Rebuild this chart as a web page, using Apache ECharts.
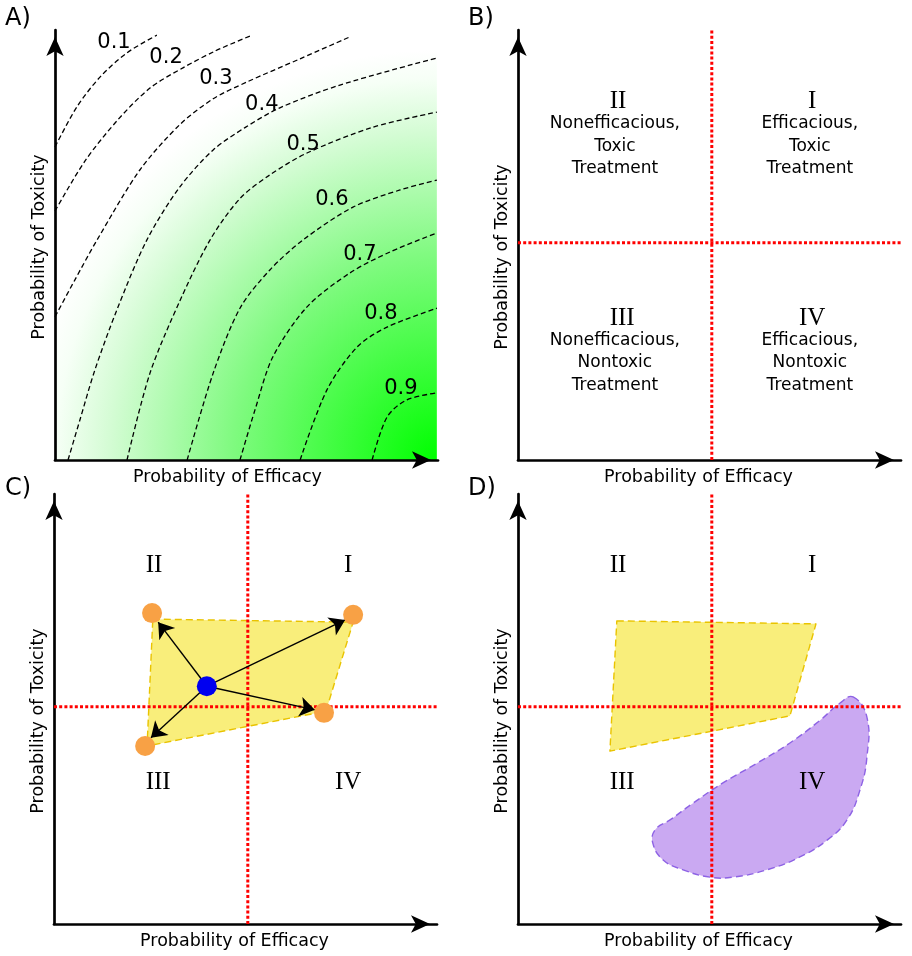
<!DOCTYPE html>
<html><head><meta charset="utf-8">
<script src="https://cdn.jsdelivr.net/npm/echarts/dist/echarts.min.js"></script>
<style>html,body{margin:0;padding:0;background:#fff}#c{width:912px;height:956px}</style>
</head><body><div id="c"></div><script>
// ---------- Panel A: utility contours ----------
const contourLabels = ['0.1','0.2','0.3','0.4','0.5','0.6','0.7','0.8','0.9'];
const contour1 = [[0,72.8],[5.7,82.1],[11.8,89.1],[18.8,94.7],[26.6,98.8]];
const contour2 = [[0,57.9],[7.8,69.5],[16.4,79.1],[24.8,86.5],[33.4,91.2],[41.8,95.1],[50.9,98.6]];
const contour3 = [[0,33.3],[5.2,41.9],[11.0,51.2],[22.2,67.5],[32.6,78.0],[41.3,84.0],[50.1,87.9],[64.0,93.3],[77.0,98.4]];
const contour4 = [[3.4,0],[6.5,9.3],[10.4,20.9],[16.2,35.0],[24.0,51.2],[32.6,63.5],[41.3,72.1],[49.6,77.3],[58.7,81.9],[74.4,87.2],[99.7,93.5]];
const contour5 = [[18.8,0],[24.8,20.2],[32.6,37.0],[40.5,51.2],[48.3,60.8],[56.1,66.3],[65.8,71.4],[83.0,77.4],[99.7,80.9]];
const contour6 = [[34.5,0],[41.3,20.2],[48.3,35.3],[56.1,44.2],[64.8,51.2],[77.8,58.8],[90.1,62.8],[99.7,65.1]];
const contour7 = [[48.3,0],[52.2,11.6],[56.9,24.0],[65.8,35.6],[77.0,43.5],[87.5,48.4],[99.7,52.8]];
const contour8 = [[64.0,0],[71.0,16.3],[78.9,26.3],[86.7,30.9],[99.7,35.3]];
const contour9 = [[82.8,0],[86.7,10.0],[91.9,14.0],[99.7,15.6]];
const contourLabelPos = [[15.4,97.0],[29.0,93.7],[42.0,88.8],[54.0,82.6],[64.8,73.3],[72.3,60.5],[79.6,47.7],[85.1,34.0],[90.3,16.7]];
const utilityField = [[0,0],[99.7,98.4]]; // extent of shaded field

// ---------- Quadrants ----------
const quadrantSplit = [50.6, 50.5];
const numerals = ['II','I','III','IV'];
const numeralPos = [[26.1,83.3],[76.8,83.3],[27.2,33.0],[76.8,33.0]];
const descriptions = ['Nonefficacious,\nToxic\nTreatment','Efficacious,\nToxic\nTreatment','Nonefficacious,\nNontoxic\nTreatment','Efficacious,\nNontoxic\nTreatment'];
const descriptionPos = [[25.3,73.0],[76.2,73.0],[25.3,22.6],[76.2,22.6]];

// ---------- Panel C / D ----------
const doseRegion = [[25.8,70.9],[78.1,70.2],[71.0,49.5],[24.3,41.4]];
const doseRegionD = [[25.8,70.5],[77.8,69.8],[71.0,48.4],[24.0,40.2]];
const cornerPoints = [[25.6,72.3],[78.1,71.9],[70.5,49.1],[23.8,41.4]];
const centerPoint = [[39.9,55.3]];
const arrowEnds = [[27.2,70.2],[76.0,70.7],[68.1,49.8],[25.3,43.3]];
const targetRegion = [[87.5,52.8],[91.1,48.1],[91.1,38.8],[89.3,31.2],[85.9,24.2],[80.7,19.5],[73.6,15.6],[65.0,12.6],[56.1,10.9],[50.1,10.9],[43.1,12.6],[37.9,14.9],[35.2,18.8],[35.8,21.9],[39.7,24.2],[45.7,28.1],[53.5,32.8],[62.4,37.4],[71.0,42.1],[78.9,47.4],[84.1,51.4]];

const panelLetters = ['A)','B)','C)','D)'];

const FONT = 'DejaVu Sans';
const grids = [
  {left:55, top:30, width:383, height:430},
  {left:518, top:30, width:383, height:430},
  {left:54, top:494, width:383, height:430},
  {left:518, top:494, width:383, height:430}
].map(g => Object.assign({outerBoundsMode:'none', containLabel:false}, g));

const axisLineCfg = {onZero:false, symbol:['none','arrow'], symbolSize:[13,19], symbolOffset:[0,-7], lineStyle:{color:'#000', width:2.7}};
const xShift = [19, 11, 11, 11];
const yShift = [2, 12, 12, 12];
const xAxes = grids.map((g,i)=>({gridIndex:i, type:'value', min:0, max:100,
  name:'Probability of Efficacy', nameLocation:'middle', nameGap:8,
  nameTextStyle:{fontFamily:FONT, fontSize:17.5, color:'#000', padding:[0,2*xShift[i],0,0]},
  axisLine:axisLineCfg, axisTick:{show:false}, axisLabel:{show:false}, splitLine:{show:false}}));
const yAxes = grids.map((g,i)=>({gridIndex:i, type:'value', min:0, max:100,
  name:'Probability of Toxicity', nameLocation:'middle', nameGap:7,
  nameTextStyle:{fontFamily:FONT, fontSize:17.5, color:'#000', padding:[0,2*yShift[i],0,0]},
  axisLine:axisLineCfg, axisTick:{show:false}, axisLabel:{show:false}, splitLine:{show:false}}));

const series = [];
// gradient field
series.push({type:'custom', xAxisIndex:0, yAxisIndex:0, z:-1, silent:true, data:[[0,0]],
  renderItem:(params, api)=>{
    const p0 = api.coord([utilityField[0][0], utilityField[1][1]]);
    const p1 = api.coord([utilityField[1][0], utilityField[0][1]]);
    return {type:'rect', shape:{x:p0[0], y:p0[1], width:p1[0]-p0[0], height:p1[1]-p0[1]},
      style:{fill:new echarts.graphic.RadialGradient(p1[0], p1[1], 410, [
        {offset:0, color:'#00ff00'}, {offset:0.5, color:'#80fa80'}, {offset:0.8, color:'#d4fcd4'},
        {offset:0.93, color:'#f6fff6'}, {offset:1, color:'#ffffff'}], true)}};
  }});
[contour1,contour2,contour3,contour4,contour5,contour6,contour7,contour8,contour9].forEach(c=>{
  series.push({type:'line', xAxisIndex:0, yAxisIndex:0, data:c, smooth:0.3, showSymbol:false, silent:true,
    lineStyle:{color:'#000', width:1.3, type:[5,3]}, z:3});
});
function textSeries(grid, pos, texts, style){
  return {type:'custom', xAxisIndex:grid, yAxisIndex:grid, z:10, silent:true,
    data:pos.map(p=>[p[0],p[1]]),
    renderItem:(params, api)=>{
      const p = api.coord([api.value(0), api.value(1)]);
      return {type:'text', x:p[0], y:p[1], style:Object.assign({text:texts[params.dataIndex], fill:'#000', align:'center', verticalAlign:'middle'}, style)};
    }};
}
series.push(textSeries(0, contourLabelPos, contourLabels, {fontFamily:FONT, fontSize:21}));

// quadrant split lines
for (let g=1; g<4; g++){
  const ls = {color:'#ff0000', width:3, type:[3,2.2]};
  series.push({type:'line', xAxisIndex:g, yAxisIndex:g, data:[[quadrantSplit[0],0],[quadrantSplit[0],100]], showSymbol:false, silent:true, lineStyle:ls, z:4});
  series.push({type:'line', xAxisIndex:g, yAxisIndex:g, data:[[0,quadrantSplit[1]],[100,quadrantSplit[1]]], showSymbol:false, silent:true, lineStyle:ls, z:4});
  series.push(textSeries(g, numeralPos, numerals, {fontFamily:'Liberation Serif', fontSize:25}));
}
series.push(textSeries(1, descriptionPos, descriptions, {fontFamily:FONT, fontSize:17, lineHeight:22.6}));

function polygonSeries(grid, pts, fill, stroke, smooth, z){
  return {type:'custom', xAxisIndex:grid, yAxisIndex:grid, z:z, silent:true, data:[[0,0]],
    renderItem:(params, api)=>({type:'polygon', shape:{points:pts.map(p=>api.coord(p)), smooth:smooth},
      style:{fill:fill, stroke:stroke, lineWidth:1.4, lineDash:[7,4], lineJoin:'round'}})};
}
series.push(polygonSeries(2, doseRegion, '#f9ee7b', '#e9c300', 0, 2));
series.push(polygonSeries(3, doseRegionD, '#f9ee7b', '#e9c300', 0, 2));
series.push(polygonSeries(3, targetRegion, '#caa9f2', '#8d62e4', 0.45, 2));

series.push({type:'lines', coordinateSystem:'cartesian2d', xAxisIndex:2, yAxisIndex:2, z:5, silent:true,
  symbol:['none','arrow'], symbolSize:15,
  lineStyle:{color:'#000', width:1.4, opacity:1, curveness:0},
  data:arrowEnds.map(e=>({coords:[centerPoint[0], e]}))});
series.push({type:'scatter', xAxisIndex:2, yAxisIndex:2, z:6, silent:true, data:cornerPoints, symbolSize:20,
  itemStyle:{color:'#f8a145', opacity:1}});
series.push({type:'scatter', xAxisIndex:2, yAxisIndex:2, z:7, silent:true, data:centerPoint, symbolSize:20,
  itemStyle:{color:'#0000f0', opacity:1}});

const letterPos = [[5,7],[468,7],[5,477],[468,477]];
const graphic = panelLetters.map((t,i)=>({type:'text', left:letterPos[i][0], top:letterPos[i][1],
  style:{text:t, fontFamily:FONT, fontSize:24, fill:'#000'}}));

const chart = echarts.init(document.getElementById('c'), null, {renderer:'canvas'});
chart.setOption({animation:false, backgroundColor:'#fff', grid:grids, xAxis:xAxes, yAxis:yAxes, series:series, graphic:graphic});
</script></body></html>
